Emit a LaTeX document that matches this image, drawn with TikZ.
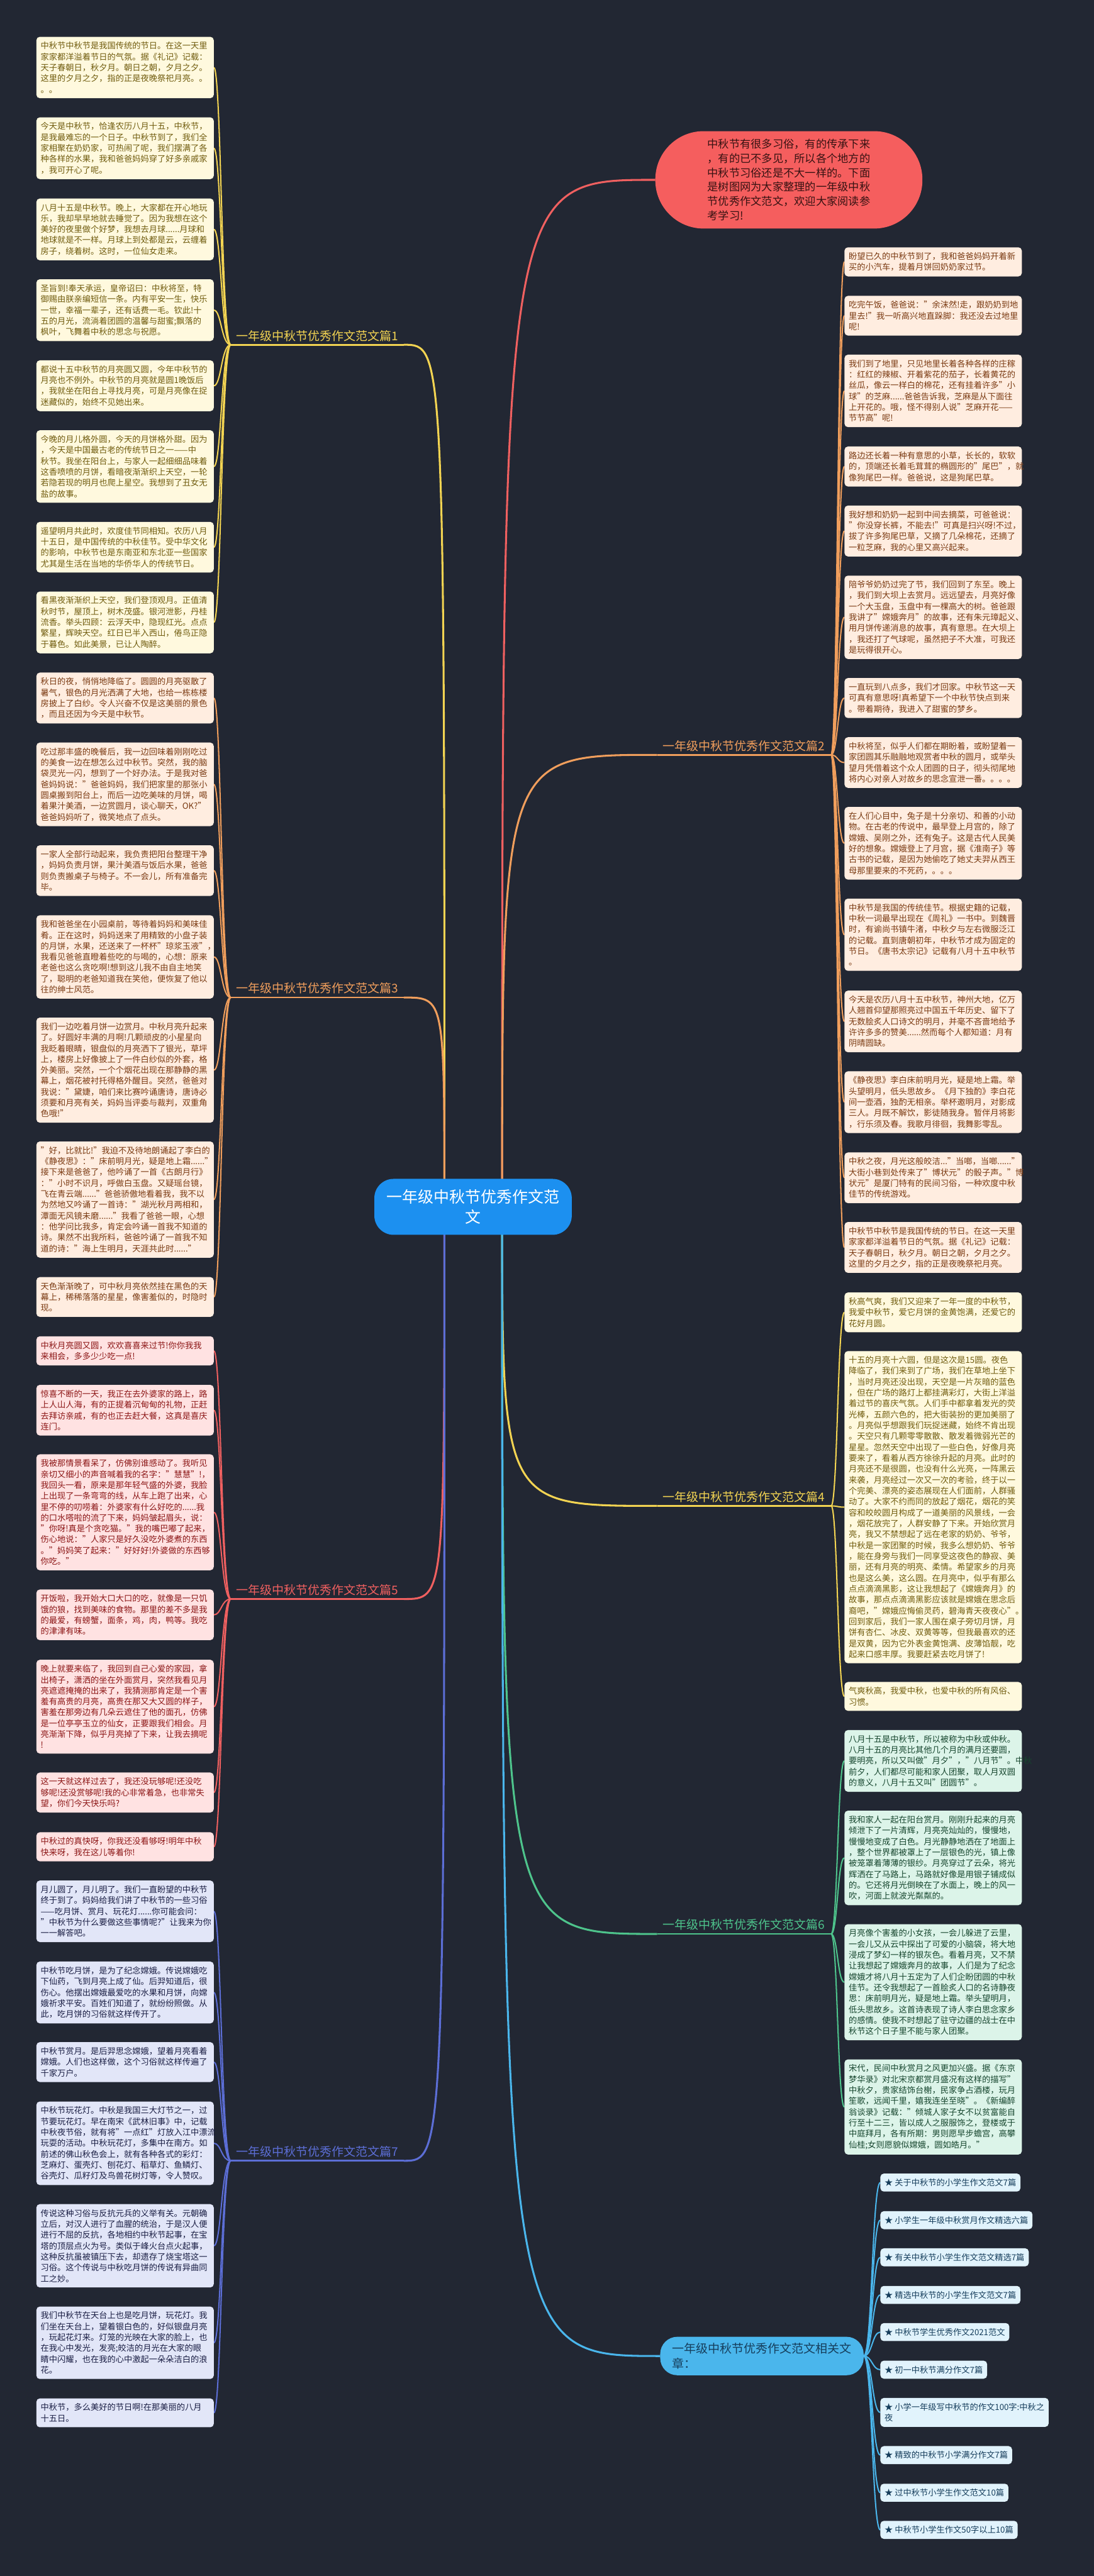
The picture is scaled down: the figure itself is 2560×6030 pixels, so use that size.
\documentclass[tikz,border=0pt]{standalone}
\usepackage{fontspec}
\setmainfont{Noto Sans CJK SC}
\definecolor{bgc}{RGB}{34,39,51}
\definecolor{ylc}{RGB}{243,212,82}
\definecolor{ylf}{RGB}{255,249,222}
\definecolor{ylt}{RGB}{112,92,14}
\definecolor{orc}{RGB}{240,158,92}
\definecolor{orf}{RGB}{255,237,224}
\definecolor{ort}{RGB}{122,58,18}
\definecolor{rdc}{RGB}{240,96,96}
\definecolor{rdf}{RGB}{255,226,226}
\definecolor{rdt}{RGB}{140,22,22}
\definecolor{blc}{RGB}{92,110,214}
\definecolor{blf}{RGB}{226,230,248}
\definecolor{blt}{RGB}{26,30,68}
\definecolor{grc}{RGB}{78,196,140}
\definecolor{grf}{RGB}{220,244,233}
\definecolor{grt}{RGB}{22,70,46}
\definecolor{cyc}{RGB}{74,182,236}
\definecolor{cyf}{RGB}{225,243,252}
\definecolor{cyt}{RGB}{22,62,92}
\definecolor{cenc}{RGB}{28,144,240}
\definecolor{intf}{RGB}{245,94,94}
\definecolor{intt}{RGB}{55,18,18}
\pgfdeclarelayer{back}
\pgfdeclarelayer{lines}
\pgfsetlayers{back,lines,main}
\tikzset{
  leaf/.style={rounded corners=8pt, text width=395pt, inner xsep=10pt, inner ysep=12pt,
    align=left, anchor=west, font=\fontsize{19.5}{25.5}\selectfont},
  yleaf/.style={leaf, fill=ylf, text=ylt},
  oleaf/.style={leaf, fill=orf, text=ort},
  rleaf/.style={leaf, fill=rdf, text=rdt},
  bleaf/.style={leaf, fill=blf, text=blt},
  gleaf/.style={leaf, fill=grf, text=grt},
  relitem/.style={rounded corners=8pt, inner xsep=10pt, inner ysep=12pt, align=left,
    anchor=west, fill=cyf, text=cyt, font=\fontsize{19.5}{25.5}\selectfont},
  brnode/.style={font=\fontsize{28}{34}\selectfont, inner sep=0pt, anchor=south},
  leafconn/.style={line width=3pt},
  mainconn/.style={line width=4.5pt},
  uline/.style={line width=4pt},
}
\begin{document}
\begin{tikzpicture}[x=1pt,y=1pt]
\begin{pgfonlayer}{back}
\fill[bgc] (0,0) rectangle (2560,-6030);
\end{pgfonlayer}
\useasboundingbox (0,0) rectangle (2560,-6030);

% ---------- centre ----------
\node[fill=cenc, text=white, rounded corners=45pt, text width=404pt, align=center,
  minimum width=462pt, minimum height=131pt, font=\fontsize{36.7}{48}\selectfont]
  (c) at (1107,-2825) {一年级中秋节优秀作文范\\文};
\coordinate (cL) at (1040,-2825);
\coordinate (cR) at (1175,-2825);

% ---------- intro bubble ----------
\node[fill=intf, text=intt, rounded corners=113pt, text width=381pt, align=left,
  minimum width=625pt, minimum height=228pt, font=\fontsize{25.4}{33.5}\selectfont]
  (intro) at (1846,-421) {中秋节有很多习俗，有的传承下来\\，有的已不多见，所以各个地方的\\中秋节习俗还是不大一样的。下面\\是树图网为大家整理的一年级中秋\\节优秀作文范文，欢迎大家阅读参\\考学习!};

% ---------- branch nodes ----------
\node[brnode, text=ylc] (b1) at (742,-799) {一年级中秋节优秀作文范文篇1};
\coordinate (b1L) at (540,-807); \coordinate (b1R) at (945,-807);
\node[brnode, text=orc] (b3) at (742,-2327) {一年级中秋节优秀作文范文篇3};
\coordinate (b3L) at (540,-2335); \coordinate (b3R) at (945,-2335);
\node[brnode, text=rdc] (b5) at (742,-3735) {一年级中秋节优秀作文范文篇5};
\coordinate (b5L) at (540,-3743); \coordinate (b5R) at (945,-3743);
\node[brnode, text=blc] (b7) at (742,-5050) {一年级中秋节优秀作文范文篇7};
\coordinate (b7L) at (540,-5058); \coordinate (b7R) at (945,-5058);
\node[brnode, text=orc] (b2) at (1741,-1759) {一年级中秋节优秀作文范文篇2};
\coordinate (b2L) at (1538,-1767); \coordinate (b2R) at (1945,-1767);
\node[brnode, text=ylc] (b4) at (1741,-3517) {一年级中秋节优秀作文范文篇4};
\coordinate (b4L) at (1538,-3525); \coordinate (b4R) at (1945,-3525);
\node[brnode, text=grc] (b6) at (1741,-4519) {一年级中秋节优秀作文范文篇6};
\coordinate (b6L) at (1538,-4527); \coordinate (b6R) at (1945,-4527);
\node[fill=cyc, text=cyt, rounded corners=40pt, text width=420pt, align=left,
  inner xsep=28pt, inner ysep=5pt, minimum height=90pt, font=\fontsize{28}{34}\selectfont]
  (rel) at (1783,-5515) {一年级中秋节优秀作文范文相关文\\章：};

\coordinate (t1) at (518,0);
\coordinate (t2) at (1960,0);
\coordinate (t3) at (2041,0);

% ---------- 篇1 leaves ----------
\node[yleaf] (l1) at (85,-158) {中秋节中秋节是我国传统的节日。在这一天里\\家家都洋溢着节日的气氛。据《礼记》记载：\\天子春朝日，秋夕月。朝日之朝，夕月之夕。\\这里的夕月之夕，指的正是夜晚祭祀月亮。。\\。。};
\node[yleaf] (l2) at (85,-347) {今天是中秋节，恰逢农历八月十五，中秋节，\\是我最难忘的一个日子。中秋节到了，我们全\\家相聚在奶奶家，可热闹了呢，我们摆满了各\\种各样的水果，我和爸爸妈妈穿了好多亲戚家\\，我可开心了呢。};
\node[yleaf] (l3) at (85,-537) {八月十五是中秋节。晚上，大家都在开心地玩\\乐，我却早早地就去睡觉了。因为我想在这个\\美好的夜里做个好梦，我想去月球......月球和\\地球就是不一样。月球上到处都是云，云缠着\\房子，绕着树。这时，一位仙女走来。};
\node[yleaf] (l4) at (85,-726) {圣旨到!奉天承运，皇帝诏曰：中秋将至，特\\御赐由朕亲编短信一条。内有平安一生，快乐\\一世，幸福一辈子，还有话费一毛。钦此!十\\五的月光，流淌着团圆的温馨与甜蜜;飘落的\\枫叶，飞舞着中秋的思念与祝愿。};
\node[yleaf] (l5) at (85,-903) {都说十五中秋节的月亮圆又圆，今年中秋节的\\月亮也不例外。中秋节的月亮就是圆1晚饭后\\，我就坐在阳台上寻找月亮，可是月亮像在捉\\迷藏似的，始终不见她出来。};
\node[yleaf] (l6) at (85,-1092) {今晚的月儿格外圆，今天的月饼格外甜。因为\\，今天是中国最古老的传统节日之一——中\\秋节。我坐在阳台上，与家人一起细细品味着\\这香喷喷的月饼，看暗夜渐渐织上天空，一轮\\若隐若现的明月也爬上星空。我想到了丑女无\\盐的故事。};
\node[yleaf] (l7) at (85,-1281) {遥望明月共此时，欢度佳节同相知。农历八月\\十五日，是中国传统的中秋佳节。受中华文化\\的影响，中秋节也是东南亚和东北亚一些国家\\尤其是生活在当地的华侨华人的传统节日。};
\node[yleaf] (l8) at (85,-1457) {看黑夜渐渐织上天空，我们登顶观月。正值清\\秋时节，屋顶上，树木茂盛。银河泄影，丹桂\\流香。举头四顾：云浮天中，隐现红光。点点\\繁星，辉映天空。红日已半入西山，倦鸟正隐\\于暮色。如此美景，已让人陶醉。};

% ---------- 篇3 leaves ----------
\node[oleaf] (l9) at (85,-1634) {秋日的夜，悄悄地降临了。圆圆的月亮驱散了\\暑气，银色的月光洒满了大地，也给一栋栋楼\\房披上了白纱。令人兴奋不仅是这美丽的景色\\，而且还因为今天是中秋节。};
\node[oleaf] (l10) at (85,-1836) {吃过那丰盛的晚餐后，我一边回味着刚刚吃过\\的美食一边在想怎么过中秋节。突然，我的脑\\袋灵光一闪，想到了一个好办法。于是我对爸\\爸妈妈说："爸爸妈妈，我们把家里的那张小\\圆桌搬到阳台上，而后一边吃美味的月饼，喝\\着果汁美酒，一边赏圆月，谈心聊天，OK?"\\爸爸妈妈听了，微笑地点了点头。};
\node[oleaf] (l11) at (85,-2038) {一家人全部行动起来，我负责把阳台整理干净\\，妈妈负责月饼，果汁美酒与饭后水果，爸爸\\则负责搬桌子与椅子。不一会儿，所有准备完\\毕。};
\node[oleaf] (l12) at (85,-2240) {我和爸爸坐在小园桌前，等待着妈妈和美味佳\\肴。正在这时，妈妈送来了用精致的小盘子装\\的月饼，水果，还送来了一杯杯"琼浆玉液"，\\我看见爸爸直瞪着些吃的与喝的，心想：原来\\老爸也这么贪吃啊!想到这儿我不由自主地笑\\了，聪明的老爸知道我在笑他，便恢复了他以\\往的绅士风范。};
\node[oleaf] (l13) at (85,-2505) {我们一边吃着月饼一边赏月。中秋月亮升起来\\了。好圆好丰满的月啊!几颗顽皮的小星星向\\我眨着眼睛，银盘似的月亮洒下了银光，草坪\\上，楼房上好像披上了一件白纱似的外套，格\\外美丽。突然，一个个烟花出现在那静静的黑\\幕上，烟花被衬托得格外醒目。突然，爸爸对\\我说："黛婕，咱们来比赛吟诵唐诗，唐诗必\\须要和月亮有关，妈妈当评委与裁判，双重角\\色哦!"};
\node[oleaf] (l14) at (85,-2808) {"好，比就比!"我迫不及待地朗诵起了李白的\\《静夜思》："床前明月光，疑是地上霜......"\\接下来是爸爸了，他吟诵了一首《古朗月行》\\："小时不识月，呼做白玉盘。又疑瑶台镜，\\飞在青云端......"爸爸骄傲地看着我，我不以\\为然地又吟诵了一首诗："湖光秋月两相和，\\潭面无风镜未磨......"我看了爸爸一眼，心想\\：他学问比我多，肯定会吟诵一首我不知道的\\诗。果然不出我所料，爸爸吟诵了一首我不知\\道的诗："海上生明月，天涯共此时......"};
\node[oleaf] (l15) at (85,-3036) {天色渐渐晚了，可中秋月亮依然挂在黑色的天\\幕上，稀稀落落的星星，像害羞似的，时隐时\\现。};

% ---------- 篇5 leaves ----------
\node[rleaf] (l16) at (85,-3162) {中秋月亮圆又圆，欢欢喜喜来过节!你你我我\\来相会，多多少少吃一点!};
\node[rleaf] (l17) at (85,-3301) {惊喜不断的一天，我正在去外婆家的路上，路\\上人山人海，有的正提着沉甸甸的礼物，正赶\\去拜访亲戚，有的也正去赶大餐，这真是喜庆\\连门。};
\node[rleaf] (l18) at (85,-3540) {我被那情景看呆了，仿佛别谁感动了。我听见\\亲切又细小的声音喊着我的名字："慧慧"!，\\我回头一看，原来是那年轻气盛的外婆，我脸\\上出现了一条弯弯的线，从车上跑了出来，心\\里不停的叨唠着：外婆家有什么好吃的......我\\的口水嗒啦的流了下来，妈妈皱起眉头，说：\\"你呀!真是个贪吃猫。"我的嘴巴嘟了起来，\\伤心地说："人家只是好久没吃外婆煮的东西\\。"妈妈笑了起来："好好好!外婆做的东西够\\你吃。"};
\node[rleaf] (l19) at (85,-3780) {开饭啦，我开始大口大口的吃，就像是一只饥\\饿的狼，找到美味的食物。那里的差不多是我\\的最爱，有螃蟹，面条，鸡，肉，鸭等。我吃\\的津津有味。};
\node[rleaf] (l20) at (85,-3995) {晚上就要来临了，我回到自己心爱的家园，拿\\出椅子，潇洒的坐在外面赏月，突然我看见月\\亮遮遮掩掩的出来了，我猜测那肯定是一个害\\羞有高贵的月亮，高贵在那又大又圆的样子，\\害羞在那旁边有几朵云遮住了他的面孔，仿佛\\是一位亭亭玉立的仙女，正要跟我们相会。月\\亮渐渐下降，似乎月亮掉了下来，让我去摘呢\\!};
\node[rleaf] (l21) at (85,-4196) {这一天就这样过去了，我还没玩够呢!还没吃\\够呢!还没赏够呢!我的心非常着急，也非常失\\望，你们今天快乐吗?};
\node[rleaf] (l22) at (85,-4323) {中秋过的真快呀，你我还没看够呀!明年中秋\\快来呀，我在这儿等着你!};

% ---------- 篇7 leaves ----------
\node[bleaf] (l23) at (85,-4474) {月儿圆了，月儿明了。我们一直盼望的中秋节\\终于到了。妈妈给我们讲了中秋节的一些习俗\\——吃月饼、赏月、玩花灯......你可能会问：\\"中秋节为什么要做这些事情呢?"让我来为你\\一一解答吧。};
\node[bleaf] (l24) at (85,-4664) {中秋节吃月饼，是为了纪念嫦娥。传说嫦娥吃\\下仙药，飞到月亮上成了仙。后羿知道后，很\\伤心。他摆出嫦娥最爱吃的水果和月饼，向嫦\\娥祈求平安。百姓们知道了，就纷纷照做。从\\此，吃月饼的习俗就这样传开了。};
\node[bleaf] (l25) at (85,-4827) {中秋节赏月。是后羿思念嫦娥，望着月亮看着\\嫦娥。人们也这样做，这个习俗就这样传遍了\\千家万户。};
\node[bleaf] (l26) at (85,-5017) {中秋节玩花灯。中秋是我国三大灯节之一，过\\节要玩花灯。早在南宋《武林旧事》中，记载\\中秋夜节俗，就有将"一点红"灯放入江中漂流\\玩耍的活动。中秋玩花灯，多集中在南方。如\\前述的佛山秋色会上，就有各种各式的彩灯：\\芝麻灯、蛋壳灯、刨花灯、稻草灯、鱼鳞灯、\\谷壳灯、瓜籽灯及鸟兽花树灯等，令人赞叹。};
\node[bleaf] (l27) at (85,-5257) {传说这种习俗与反抗元兵的义举有关。元朝确\\立后，对汉人进行了血腥的统治，于是汉人便\\进行不屈的反抗，各地相约中秋节起事，在宝\\塔的顶层点火为号。类似于峰火台点火起事，\\这种反抗虽被镇压下去，却遗存了烧宝塔这一\\习俗。这个传说与中秋吃月饼的传说有异曲同\\工之妙。};
\node[bleaf] (l28) at (85,-5484) {我们中秋节在天台上也是吃月饼，玩花灯。我\\们坐在天台上，望着银白色的，好似银盘月亮\\，玩起花灯来。灯笼的光映在大家的脸上，也\\在我心中发光，发亮;皎洁的月光在大家的眼\\睛中闪耀，也在我的心中激起一朵朵洁白的浪\\花。};
\node[bleaf] (l29) at (85,-5648) {中秋节，多么美好的节日啊!在那美丽的八月\\十五日。};

% ---------- 篇2 leaves ----------
\node[oleaf] (r1) at (1976,-613) {盼望已久的中秋节到了，我和爸爸妈妈开着新\\买的小汽车，提着月饼回奶奶家过节。};
\node[oleaf] (r2) at (1976,-739) {吃完午饭，爸爸说："余沫然!走，跟奶奶到地\\里去!"我一听高兴地直跺脚：我还没去过地里\\呢!};
\node[oleaf] (r3) at (1976,-915) {我们到了地里，只见地里长着各种各样的庄稼\\：红红的辣椒、开着紫花的茄子，长着黄花的\\丝瓜，像云一样白的棉花，还有挂着许多"小\\球"的芝麻......爸爸告诉我，芝麻是从下面往\\上开花的。哦，怪不得别人说"芝麻开花——\\节节高"呢!};
\node[oleaf] (r4) at (1976,-1092) {路边还长着一种有意思的小草，长长的，软软\\的，顶端还长着毛茸茸的椭圆形的"尾巴"，就\\像狗尾巴一样。爸爸说，这是狗尾巴草。};
\node[oleaf] (r5) at (1976,-1243) {我好想和奶奶一起到中间去摘菜，可爸爸说：\\"你没穿长裤，不能去!"可真是扫兴呀!不过，\\拔了许多狗尾巴草，又摘了几朵棉花，还摘了\\一粒芝麻，我的心里又高兴起来。};
\node[oleaf] (r6) at (1976,-1445) {陪爷爷奶奶过完了节，我们回到了东至。晚上\\，我们到大坝上去赏月。远远望去，月亮好像\\一个大玉盘，玉盘中有一棵高大的树。爸爸跟\\我讲了"嫦娥奔月"的故事，还有朱元璋起义、\\用月饼传递消息的故事，真有意思。在大坝上\\，我还打了气球呢，虽然把子不大准，可我还\\是玩得很开心。};
\node[oleaf] (r7) at (1976,-1634) {一直玩到八点多，我们才回家。中秋节这一天\\可真有意思呀!真希望下一个中秋节快点到来\\。带着期待，我进入了甜蜜的梦乡。};
\node[oleaf] (r8) at (1976,-1785) {中秋将至，似乎人们都在期盼着，或盼望着一\\家团圆其乐融融地观赏者中秋的圆月，或举头\\望月凭借着这个众人团圆的日子，彻头彻尾地\\将内心对亲人对故乡的思念宣泄一番。。。。};
\node[oleaf] (r9) at (1976,-1974) {在人们心目中，兔子是十分亲切、和善的小动\\物。在古老的传说中，最早登上月宫的，除了\\嫦娥、吴刚之外，还有兔子。这是古代人民美\\好的想象。嫦娥登上了月宫，据《淮南子》等\\古书的记载，是因为她偷吃了她丈夫羿从西王\\母那里要来的不死药，。。。};
\node[oleaf] (r10) at (1976,-2188) {中秋节是我国的传统佳节。根据史籍的记载，\\中秋一词最早出现在《周礼》一书中。到魏晋\\时，有谕尚书镇牛渚，中秋夕与左右微服泛江\\的记载。直到唐朝初年，中秋节才成为固定的\\节日。《唐书太宗记》记载有八月十五中秋节\\。};
\node[oleaf] (r11) at (1976,-2391) {今天是农历八月十五中秋节，神州大地，亿万\\人翘首仰望那照亮过中国五千年历史、留下了\\无数脍炙人口诗文的明月，并毫不吝啬地给予\\许许多多的赞美......然而每个人都知道：月有\\阴晴圆缺。};
\node[oleaf] (r12) at (1976,-2580) {《静夜思》李白床前明月光，疑是地上霜。举\\头望明月，低头思故乡。《月下独酌》李白花\\间一壶酒，独酌无相亲。举杯邀明月，对影成\\三人。月既不解饮，影徒随我身。暂伴月将影\\，行乐须及春。我歌月徘徊，我舞影零乱。};
\node[oleaf] (r13) at (1976,-2757) {中秋之夜，月光这般皎洁..."当啷，当啷......"\\大街小巷到处传来了"博状元"的骰子声。"博\\状元"是厦门特有的民间习俗，一种欢度中秋\\佳节的传统游戏。};
\node[oleaf] (r14) at (1976,-2920) {中秋节中秋节是我国传统的节日。在这一天里\\家家都洋溢着节日的气氛。据《礼记》记载：\\天子春朝日，秋夕月。朝日之朝，夕月之夕。\\这里的夕月之夕，指的正是夜晚祭祀月亮。};

% ---------- 篇4 leaves ----------
\node[yleaf] (r15) at (1976,-3072) {秋高气爽，我们又迎来了一年一度的中秋节，\\我爱中秋节，爱它月饼的金黄饱满，还爱它的\\花好月圆。};
\node[yleaf] (r16) at (1976,-3528) {十五的月亮十六圆，但是这次是15圆。夜色\\降临了，我们来到了广场，我们在草地上坐下\\，当时月亮还没出现，天空是一片灰暗的蓝色\\，但在广场的路灯上都挂满彩灯，大街上洋溢\\着过节的喜庆气氛。人们手中都拿着发光的荧\\光棒，五颜六色的，把大街装扮的更加美丽了\\。月亮似乎想跟我们玩捉迷藏，始终不肯出现\\。天空只有几颗零零散散、散发着微弱光芒的\\星星。忽然天空中出现了一些白色，好像月亮\\要来了，看着从西方徐徐升起的月亮。此时的\\月亮还不是很圆，也没有什么光亮，一阵黑云\\来袭，月亮经过一次又一次的考验，终于以一\\个完美、漂亮的姿态展现在人们面前，人群骚\\动了。大家不约而同的放起了烟花，烟花的笑\\容和皎皎圆月构成了一道美丽的风景线，一会\\，烟花放完了，人群安静了下来。开始欣赏月\\亮，我又不禁想起了远在老家的奶奶、爷爷，\\中秋是一家团聚的时候，我多么想奶奶、爷爷\\，能在身旁与我们一同享受这夜色的静寂、美\\丽，还有月亮的明亮、柔情。希望家乡的月亮\\也是这么美，这么圆。在月亮中，似乎有那么\\点点滴滴黑影，这让我想起了《嫦娥奔月》的\\故事，那点点滴滴黑影应该就是嫦娥在思念后\\裔吧，"嫦娥应悔偷灵药，碧海青天夜夜心"。\\回到家后，我们一家人围在桌子旁切月饼，月\\饼有杏仁、冰皮、双黄等等，但我最喜欢的还\\是双黄，因为它外表金黄饱满、皮薄馅靓，吃\\起来口感丰厚。我要赶紧去吃月饼了!};
\node[yleaf] (r17) at (1976,-3971) {气爽秋高，我爱中秋，也爱中秋的所有风俗、\\习惯。};

% ---------- 篇6 leaves ----------
\node[gleaf] (r18) at (1976,-4122) {八月十五是中秋节，所以被称为中秋或仲秋。\\八月十五的月亮比其他几个月的满月还要圆，\\要明亮，所以又叫做"月夕"，"八月节"。中秋\\前夕，人们都尽可能和家人团聚，取人月双圆\\的意义，八月十五又叫"团圆节"。};
\node[gleaf] (r19) at (1976,-4349) {我和家人一起在阳台赏月。刚刚升起来的月亮\\倾泄下了一片清辉，月亮亮灿灿的，慢慢地，\\慢慢地变成了白色。月光静静地洒在了地面上\\，整个世界都被罩上了一层银色的光，镇上像\\被笼罩着薄薄的银纱。月亮穿过了云朵，将光\\辉洒在了马路上，马路就好像是用银子铺成似\\的。它还将月光倒映在了水面上，晚上的风一\\吹，河面上就波光粼粼的。};
\node[gleaf] (r20) at (1976,-4640) {月亮像个害羞的小女孩，一会儿躲进了云里，\\一会儿又从云中探出了可爱的小脑袋，将大地\\浸成了梦幻一样的银灰色。看着月亮，又不禁\\让我想起了嫦娥奔月的故事，人们是为了纪念\\嫦娥才将八月十五定为了人们企盼团圆的中秋\\佳节。还令我想起了一首脍炙人口的名诗静夜\\思：床前明月光，疑是地上霜。举头望明月，\\低头思故乡。这首诗表现了诗人李白思念家乡\\的感情。使我不时想起了驻守边疆的战士在中\\秋节这个日子里不能与家人团聚。};
\node[gleaf] (r21) at (1976,-4932) {宋代，民间中秋赏月之风更加兴盛。据《东京\\梦华录》对北宋京都赏月盛况有这样的描写"\\中秋夕，贵家结饰台榭，民家争占酒楼，玩月\\笙歌，远闻千里，嬉我连坐至晓"。《新编醉\\翁谈录》记载："倾城人家子女不以贫富能自\\行至十二三，皆以成人之服服饰之，登楼或于\\中庭拜月，各有所期：男则愿早步蟾宫，高攀\\仙桂;女则愿貌似嫦娥，圆如皓月。"};

% ---------- related items ----------
\node[relitem] (a1) at (2060,-5109) {★ 关于中秋节的小学生作文范文7篇};
\node[relitem] (a2) at (2060,-5197) {★ 小学生一年级中秋赏月作文精选六篇};
\node[relitem] (a3) at (2060,-5284) {★ 有关中秋节小学生作文范文精选7篇};
\node[relitem] (a4) at (2060,-5372) {★ 精选中秋节的小学生作文范文7篇};
\node[relitem] (a5) at (2060,-5459) {★ 中秋节学生优秀作文2021范文};
\node[relitem] (a6) at (2060,-5547) {★ 初一中秋节满分作文7篇};
\node[relitem] (a7) at (2060,-5647) {★ 小学一年级写中秋节的作文100字:中秋之\\夜};
\node[relitem] (a8) at (2060,-5747) {★ 精致的中秋节小学满分作文7篇};
\node[relitem] (a9) at (2060,-5835) {★ 过中秋节小学生作文范文10篇};
\node[relitem] (a10) at (2060,-5922) {★ 中秋节小学生作文50字以上10篇};

% ---------- connectors ----------
\begin{pgfonlayer}{lines}
% centre to branches
\draw[mainconn, rdc] (cR) .. controls (cR |- intro.west) .. (intro.west);
\draw[mainconn, ylc] (cL) .. controls (cL |- b1R) .. (b1R);
\draw[mainconn, orc] (cL) .. controls (cL |- b3R) .. (b3R);
\draw[mainconn, rdc] (cL) .. controls (cL |- b5R) .. (b5R);
\draw[mainconn, blc] (cL) .. controls (cL |- b7R) .. (b7R);
\draw[mainconn, orc] (cR) .. controls (cR |- b2L) .. (b2L);
\draw[mainconn, ylc] (cR) .. controls (cR |- b4L) .. (b4L);
\draw[mainconn, grc] (cR) .. controls (cR |- b6L) .. (b6L);
\draw[mainconn, cyc] (cR) .. controls (cR |- rel.west) .. (rel.west);
% underlines
\draw[uline, ylc] (b1L) -- (b1R);
\draw[uline, orc] (b3L) -- (b3R);
\draw[uline, rdc] (b5L) -- (b5R);
\draw[uline, blc] (b7L) -- (b7R);
\draw[uline, orc] (b2L) -- (b2R);
\draw[uline, ylc] (b4L) -- (b4R);
\draw[uline, grc] (b6L) -- (b6R);
% leaves
\foreach \i in {1,...,8}
  \draw[leafconn, ylc] (b1L) .. controls (b1L -| t1) and (l\i.east -| t1) .. (l\i.east);
\foreach \i in {9,...,15}
  \draw[leafconn, orc] (b3L) .. controls (b3L -| t1) and (l\i.east -| t1) .. (l\i.east);
\foreach \i in {16,...,22}
  \draw[leafconn, rdc] (b5L) .. controls (b5L -| t1) and (l\i.east -| t1) .. (l\i.east);
\foreach \i in {23,...,29}
  \draw[leafconn, blc] (b7L) .. controls (b7L -| t1) and (l\i.east -| t1) .. (l\i.east);
\foreach \i in {1,...,14}
  \draw[leafconn, orc] (b2R) .. controls (b2R -| t2) and (r\i.west -| t2) .. (r\i.west);
\foreach \i in {15,16,17}
  \draw[leafconn, ylc] (b4R) .. controls (b4R -| t2) and (r\i.west -| t2) .. (r\i.west);
\foreach \i in {18,...,21}
  \draw[leafconn, grc] (b6R) .. controls (b6R -| t2) and (r\i.west -| t2) .. (r\i.west);
\foreach \i in {1,...,10}
  \draw[leafconn, cyc] (rel.east) .. controls (rel.east -| t3) and (a\i.west -| t3) .. (a\i.west);
\end{pgfonlayer}
\end{tikzpicture}
\end{document}
